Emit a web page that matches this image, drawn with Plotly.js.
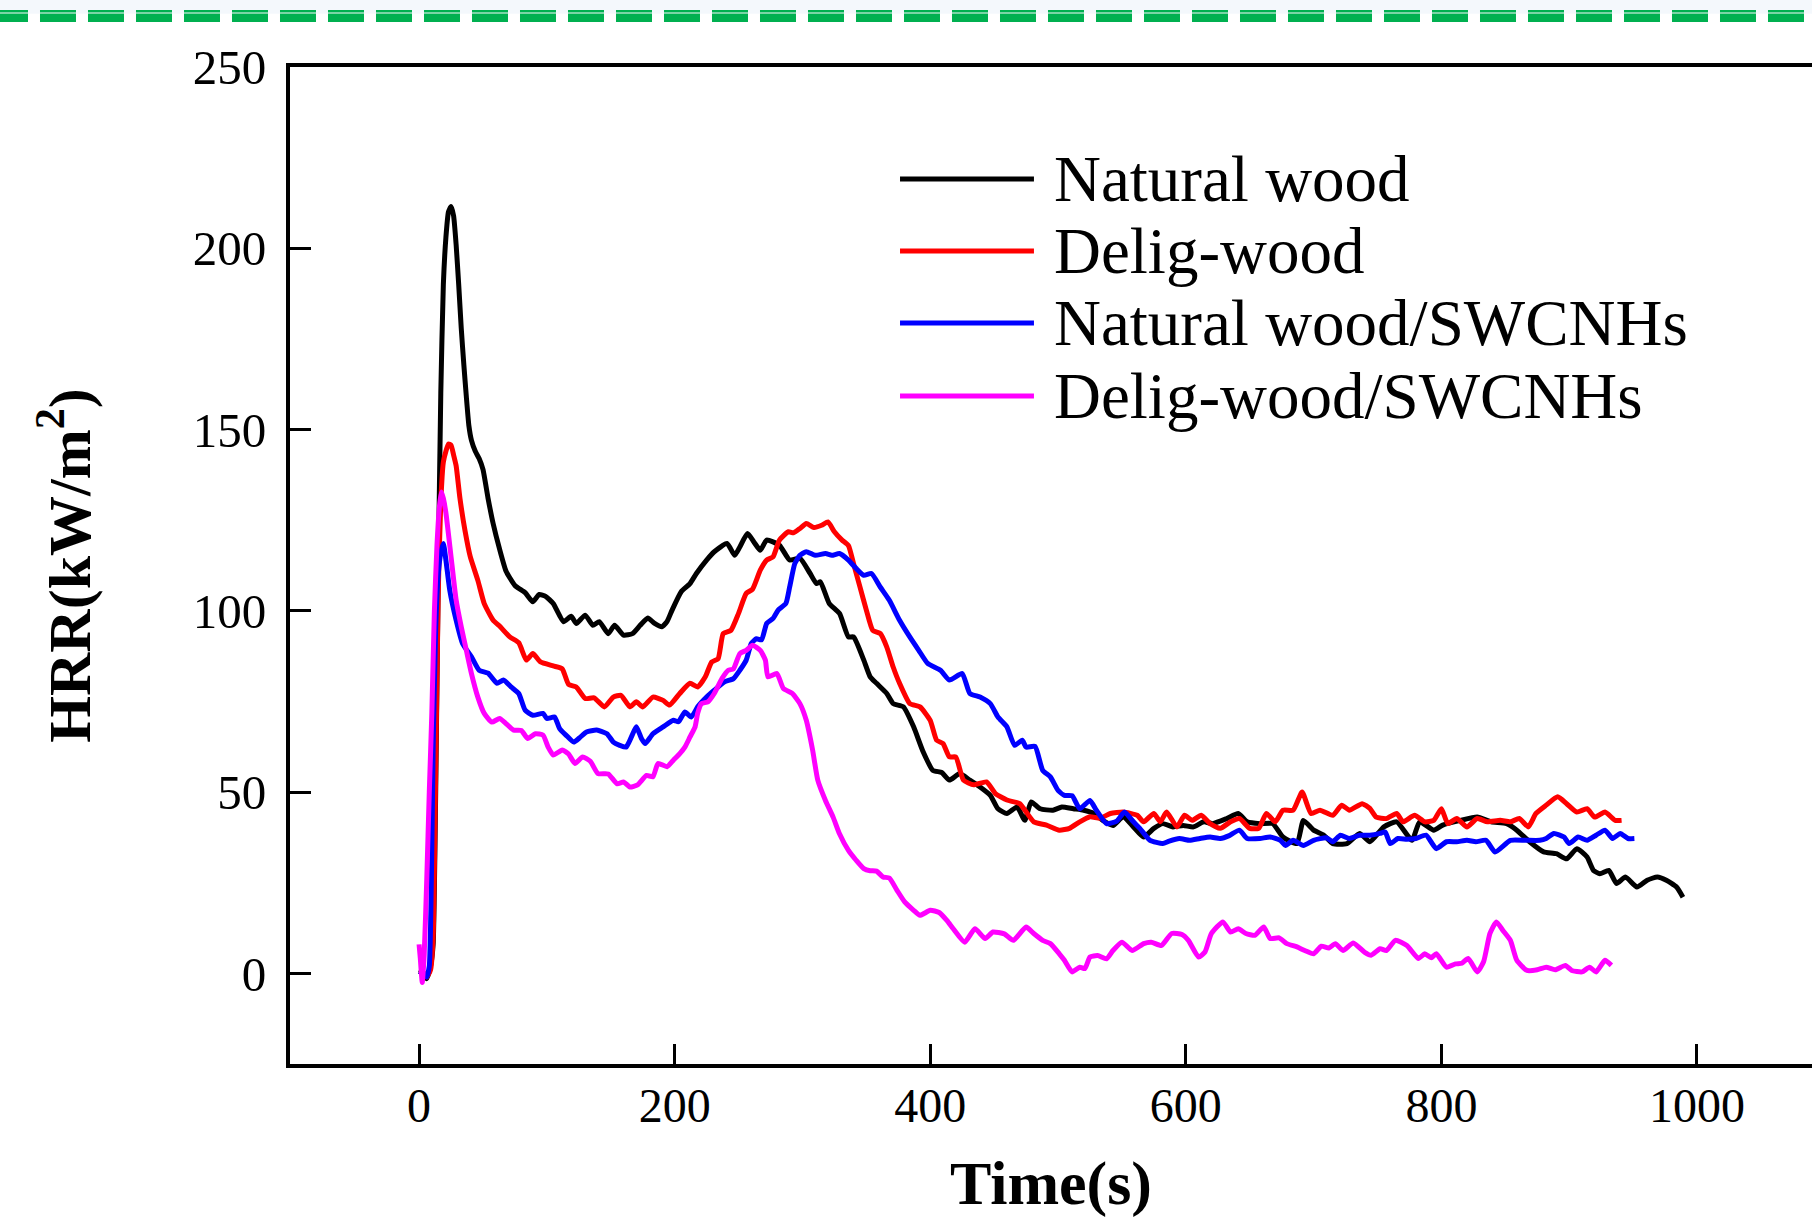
<!DOCTYPE html>
<html>
<head>
<meta charset="utf-8">
<script src="https://cdn.plot.ly/plotly-3.0.1.min.js"></script>
<style>
html,body{margin:0;padding:0;background:#fff;}
#chart{width:1812px;height:1218px;}
</style>
</head>
<body>
<div id="chart"></div>
<script>
// ---------- data ----------
const seriesNames = ["Natural wood", "Delig-wood", "Natural wood/SWCNHs", "Delig-wood/SWCNHs"];
const seriesColors = ["#000000", "#FF0000", "#0000FF", "#FF00FF"];

const timeNatural = [0,3,6,9,11,13,15,17,19,21,23,25,27,29,31,33,35,37,39,41,44,47,50,54,58,63,68,75,83,89,94,99,105,113,119,123,130,136,141,148,153,160,167,173,179,184,190,194,198,205,212,217,225,231,241,247,251,257,262,267,272,282,290,298,306,311,314,321,329,336,340,348,353,358,366,371,379,387,394,402,409,415,423,431,439,447,453,460,468,474,479,486,496,503,512,520,528,535,543,551,559,567,575,582,590,598,606,614,621,632,641,648,658,668,676,687,692,700,708,715,726,736,744,755,765,777,783,794,801,815,828,839,851,859,869,880,890,898,906,914,919,924,931,937,944,953,961,969,976,984,989];
const hrrNatural = [1,0.5,-1.5,2,8,50,110,160,190,203,210,211.5,209,201,190,178,168,159,151,147,144,142,139,131,124,117,111,107,105,102.5,104.5,104,102,97,98.5,96.5,98.8,96,97,93.7,96,93.3,93.7,96,98,96.6,95.6,97,100.2,105.2,107.5,110.3,114,116.3,118.6,115.3,117.6,121.3,119,116.7,119.5,118.1,114,114.5,110.3,107.5,108,102,99.3,92.8,92.8,86.4,81.8,80,77.2,74.4,73.5,68,61.5,56,55.4,53.3,55.1,53.3,51.4,49.1,45.4,44.1,45.9,42.2,47.3,45.4,45,45.9,45.4,45,44.1,42.2,40.8,43.2,40.4,37.6,40,41.3,40.4,40.8,40.4,41.8,41.3,42.7,44.1,41.8,41.3,41.3,37.6,35.8,42.2,39.5,38.1,35.8,35.8,38.6,36.3,40.4,41.8,36.7,41.8,39.5,40.9,42.2,43.1,41.8,41.3,39.5,36.3,33.5,33,31.6,34.4,32.1,28.4,27.5,28.4,24.8,26.6,23.8,25.7,26.6,25.7,23.8,21];

const timeDelig = [0,3,6,9,11,13,15,17,19,21,23,25,27,29,32,36,40,46,51,58,63,71,78,84,89,95,105,112,117,123,130,137,145,152,158,165,170,175,183,191,196,204,212,218,224,229,234,238,244,250,256,261,267,272,277,282,289,293,298,303,309,315,320,325,331,336,340,345,350,355,361,366,371,376,384,392,400,405,410,415,420,426,434,444,451,460,470,481,491,501,509,517,525,533,541,551,562,567,575,580,585,593,599,605,612,619,627,635,642,650,657,663,670,676,684,691,698,705,715,722,728,738,744,749,757,765,770,779,787,794,800,805,812,820,828,836,846,854,861,868,874,882,891,898,906,914,920,928,936,941];
const hrrDelig = [0.5,0,-1,1,10,55,105,130,141,144,146,145.7,143,140,131,122,115,108.4,102,97.4,95.8,92.8,91.2,86.4,88.2,85.9,84.8,84,79.7,79,75.8,76,73.5,76.2,76.7,73.5,74.9,73.5,76.2,75.3,74,77.2,80,79,81.8,85.9,86.8,93.7,94.6,99.3,104.8,106,111.2,114,114.9,119.5,121.8,121.5,122.7,124.1,123,123.6,124.5,121.8,119.5,118,113,106.6,100.2,94.6,93.7,90,84.5,80,74.4,73.5,69.8,64.3,63.4,59.7,59.7,53.3,52,52.8,49.6,47.8,46.8,41.8,40.9,39.5,40,41.8,43.2,42.8,44.1,44.5,43.6,41.8,44.1,41.8,44.5,40.4,43.6,42.2,43.6,41.3,40,41.8,42.7,40,40,44.1,41.8,45,45,50,44.1,45,43.6,46.4,45,46.8,45.5,43.1,42.7,44.1,41.8,43.6,41.8,42.2,45.4,41.3,42.7,40.4,42.7,41.8,42.2,41.8,42.7,40.4,44.1,46.4,48.7,46.8,44.5,45.4,43.1,44.5,42.2,42.2];

const timeNaturalCNH = [0,3,6,8,10,11,13,15,17,19,21,24,29,34,41,47,54,61,66,72,78,83,89,97,100,106,110,115,121,126,131,139,147,152,157,162,166,170,174,177,183,191,199,203,208,213,218,225,231,239,246,251,256,260,264,268,272,277,281,287,290,294,298,303,310,318,323,329,336,342,348,354,361,368,376,384,391,398,408,415,425,431,439,447,453,460,466,472,475,482,488,494,500,505,511,517,525,530,538,546,552,559,564,572,582,587,595,603,611,619,627,634,642,648,658,666,674,678,684,692,700,710,715,721,728,736,744,752,756,760,766,773,780,788,796,804,812,820,827,835,842,854,866,877,882,888,896,900,907,914,921,928,934,940,946,951];
const hrrNaturalCNH = [0.5,0,-1,2,35,62,95,110,116,118.6,114,105.7,97.4,91,87.3,83.6,82.8,80,80.9,79,77.2,72.6,71.2,71.7,70.3,70.7,67.5,65.7,63.8,65.1,66.6,67.1,66.1,63.8,62.9,62.4,65.1,68,64.8,63.4,66.1,68,69.8,69.4,72.1,70.7,73.5,76.2,78.1,80.4,81.3,83.6,86.4,91,92.3,92,96.5,97.9,100.2,102,106.6,113,115.3,116.3,115.3,115.8,115.3,115.8,114,111.7,109.8,110.3,106.5,102.9,97.4,92.8,89.1,85.5,83.6,80.9,82.7,77.2,76.2,74.4,70.7,68,62.9,64.3,62.4,62.6,56,54.2,50.5,49.1,49,45.4,47.7,45,41.3,42,44.5,41.8,40,36.7,35.8,36.5,37.2,36.7,37.2,37.6,37.2,38,39.5,37.2,37.2,37.6,36.7,35.3,36.7,35.3,36.7,37.4,36.3,38.1,37.2,38.1,38.1,38.6,39,35.8,37.2,37,37.2,38.1,34.4,36.3,36.3,36.7,36.3,36.7,33.5,36.7,36.7,36.7,37.2,38.6,37.6,35.8,37.6,36.7,38.1,39.5,37.2,38.6,37.2,37.2];

const timeDeligCNH = [0,1,2.5,4,6,8,10,12,14,16,17.5,19,21,25,29,33,37,41,46,51,57,63,68,74,80,85,91,97,101,105,112,117,122,128,134,140,148,155,160,165,171,178,183,187,194,199,204,208,212,216,218,221,226,231,237,242,246,251,256,261,267,271,273,280,285,292,298,303,308,312,318,324,329,336,342,348,353,358,363,368,374,380,387,392,400,407,413,418,427,435,443,449,458,465,475,481,488,494,501,505,511,517,521,525,531,538,543,550,558,567,573,581,589,597,602,610,615,620,629,635,641,647,654,661,666,673,679,687,693,700,706,712,717,723,731,740,745,752,757,764,773,782,787,792,796,804,811,816,821,828,833,838,843,848,854,859,867,875,882,889,897,902,910,916,921,928,933];
const hrrDeligCNH = [8,4,-2.5,5,25.7,50,72,100,118,129,132.8,131,127,115,103,95.6,89.1,82.7,76.2,71.7,69.3,70.3,68.9,67.1,67,64.8,66.1,65.7,62.4,60.2,61.6,60.5,57.9,59.7,58.5,55.1,55,52.3,52.8,51.4,52,54.6,54.2,57.9,57,58.8,60.6,62.4,65.2,68,71.7,74.4,74.9,77.2,81.3,83.6,84,88.2,89.1,90.5,89.1,86.4,81.8,82.7,78.6,77.2,74.4,69.8,61.5,53.3,47.7,43.1,38.5,33.9,31.2,28.9,28.3,28.2,26.6,26.3,22.9,19.7,17.4,16,17.4,16.8,14.6,12.3,8.6,12.3,9.6,11.4,10.9,9.1,12.8,11,9.1,8.2,5.4,3.6,0.4,1.7,1.3,4.5,4.9,4,6.3,8.6,6.3,8.2,8.6,7.7,11,10.7,9.1,4.5,5.9,11,14.2,11.4,12.3,11,10.5,12.8,9.6,9.8,8.2,7.3,6.3,5.4,7.5,7,8.2,6.3,8.4,5.8,5,6.8,6.3,9.1,7.7,4.1,5.4,4.3,5.4,1.7,2.6,2.8,4.1,0.4,3.2,11,14.2,11.9,9.1,3.6,0.8,1,1.7,1,2.2,0.8,0.4,1.7,0.4,3.6,2.2];

const xTickValues = [0, 200, 400, 600, 800, 1000];
const yTickValues = [0, 50, 100, 150, 200, 250];
const xTitleText = "<b>Time(s)</b>";
const yTitleText = "<b>HRR(kW/m<sup>2</sup>)</b>";

// ---------- figure ----------
const seriesX = [timeNatural, timeDelig, timeNaturalCNH, timeDeligCNH];
const seriesY = [hrrNatural, hrrDelig, hrrNaturalCNH, hrrDeligCNH];

const traces = seriesNames.map((name, i) => ({
  type: "scatter",
  mode: "lines",
  name: name,
  x: seriesX[i],
  y: seriesY[i],
  line: {color: seriesColors[i], width: 5, shape: "spline", smoothing: 0.5},
  showlegend: false,
  hoverinfo: "x+y+name"
}));

const serif = "Liberation Serif, Times New Roman, serif";

// custom legend (long line samples like the original)
const legendLeft = 0.4008, legendRight = 0.4888, legendText = 0.5007;
const legendY = [0.8877, 0.8154, 0.7432, 0.6700];

const shapes = [];
const annotations = [];
seriesNames.forEach((name, i) => {
  shapes.push({type: "line", xref: "paper", yref: "paper",
    x0: legendLeft, x1: legendRight, y0: legendY[i], y1: legendY[i],
    line: {color: seriesColors[i], width: 5}});
  annotations.push({xref: "paper", yref: "paper", x: legendText, y: legendY[i],
    xanchor: "left", yanchor: "middle", showarrow: false, text: name,
    font: {family: serif, size: 65, color: "#000"}});
});

// decorative header band (light strip with green double dashed rule)
shapes.push({type: "rect", xref: "paper", yref: "paper", x0: -0.2, x1: 1.01, y0: 1.0534, y1: 1.0685,
  fillcolor: "#F4F8FC", line: {width: 0}, layer: "below"});
shapes.push({type: "line", xref: "paper", yref: "paper", x0: -0.1958, x1: 1.01, y0: 1.0559, y1: 1.0559,
  line: {color: "#00B050", width: 2.5, dash: "36px,12px"}});
shapes.push({type: "line", xref: "paper", yref: "paper", x0: -0.1958, x1: 1.01, y0: 1.0495, y1: 1.0495,
  line: {color: "#00B050", width: 8.5, dash: "36px,12px"}});

const layout = {
  width: 1812, height: 1218,
  margin: {l: 290, r: 0, t: 67, b: 154, pad: 0},
  paper_bgcolor: "#ffffff",
  plot_bgcolor: "#ffffff",
  showlegend: false,
  font: {family: serif, color: "#000"},
  xaxis: {
    range: [-101, 1090],
    tickmode: "array", tickvals: xTickValues, ticktext: xTickValues.map(String),
    ticks: "inside", ticklen: 20, tickwidth: 3, tickcolor: "#000",
    showline: true, linewidth: 4, linecolor: "#000", mirror: true,
    showgrid: false, zeroline: false,
    tickfont: {family: serif, size: 48, color: "#000"},
    ticklabelstandoff: -4,
    automargin: false,
    title: {text: xTitleText, font: {family: serif, size: 62, color: "#000"}, standoff: 68}
  },
  yaxis: {
    range: [-25, 250],
    tickmode: "array", tickvals: yTickValues, ticktext: yTickValues.map(String),
    ticks: "inside", ticklen: 21, tickwidth: 3, tickcolor: "#000",
    showline: true, linewidth: 4, linecolor: "#000", mirror: false,
    showgrid: false, zeroline: false,
    tickfont: {family: serif, size: 49, color: "#000"},
    ticklabelstandoff: 10,
    automargin: false,
    title: {text: yTitleText, font: {family: serif, size: 60, color: "#000"}, standoff: 84}
  },
  shapes: shapes,
  annotations: annotations
};

Plotly.newPlot("chart", traces, layout, {displayModeBar: false, staticPlot: true});
</script>
</body>
</html>
